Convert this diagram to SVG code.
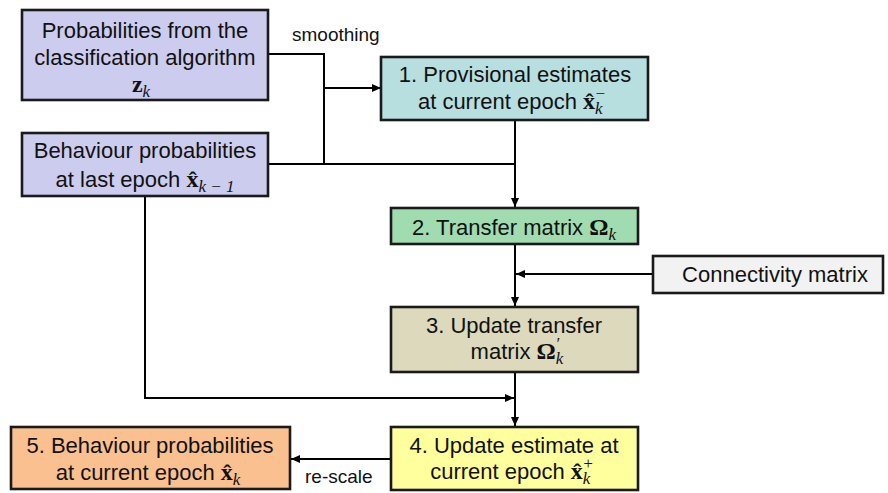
<svg xmlns="http://www.w3.org/2000/svg" width="888" height="493" viewBox="0 0 888 493">
<defs>
<marker id="arr" markerUnits="userSpaceOnUse" markerWidth="10" markerHeight="10" viewBox="0 0 10 10" refX="9" refY="5" orient="auto">
<path d="M0,1 L9,5 L0,9 Z" fill="#000"/>
</marker>
<style>
.box{stroke:#1a1a1a;stroke-width:2.6}
.t{font-family:"Liberation Sans",Arial,sans-serif;font-size:22px;fill:#111;text-anchor:middle}
.s{font-family:"Liberation Sans",Arial,sans-serif;font-size:19px;fill:#111}
.m{font-family:"Liberation Serif","DejaVu Serif",serif;font-weight:bold;font-size:24px}
.i{font-family:"Liberation Serif","DejaVu Serif",serif;font-style:italic;font-weight:normal;font-size:17px}
.c{fill:none;stroke:#000;stroke-width:2}
.a{marker-end:url(#arr)}
</style>
</defs>
<g id="connectors">
<path class="c" d="M268,54 H324 V164"/>
<path class="c" d="M268,164 H515"/>
<path class="c a" d="M324,88 H381"/>
<path class="c a" d="M515,120 V207"/>
<path class="c a" d="M515,244 V306"/>
<path class="c a" d="M653,274 H516"/>
<path class="c a" d="M145,197 V398 H514"/>
<path class="c a" d="M515,372 V426"/>
<path class="c a" d="M391,459 H291"/>
<text class="s" x="292" y="41">smoothing</text>
<text class="s" x="305" y="483">re-scale</text>
</g>
<g id="nodeA">
<rect class="box" x="22" y="10" width="246" height="90" fill="#ccccee"/>
<text class="t" x="145" y="38">Probabilities from the</text>
<text class="t" x="145" y="65">classification algorithm</text>
<text class="t" x="141" y="92"><tspan class="m">z</tspan><tspan class="i" dy="5">k</tspan></text>
</g>
<g id="nodeB">
<rect class="box" x="22" y="133" width="246" height="63" fill="#ccccee"/>
<text class="t" x="145" y="158">Behaviour probabilities</text>
<text class="t" x="145" y="187">at last epoch <tspan class="m">x&#x302;</tspan><tspan class="i" dy="5">k − 1</tspan></text>
</g>
<g id="node1">
<rect class="box" x="381" y="57" width="267" height="63" fill="#b8dfe0"/>
<text class="t" x="515" y="82">1. Provisional estimates</text>
<text class="t" x="512" y="109">at current epoch <tspan class="m">x&#x302;</tspan><tspan class="i" dy="5">k</tspan><tspan class="i" dx="-8" dy="-15">−</tspan></text>
</g>
<g id="node2">
<rect class="box" x="391" y="208" width="247" height="36" fill="#a0dcb0"/>
<text class="t" x="514" y="235">2. Transfer matrix <tspan class="m">Ω</tspan><tspan class="i" dy="5">k</tspan></text>
</g>
<g id="node3">
<rect class="box" x="391" y="307" width="247" height="65" fill="#dcd9bc"/>
<text class="t" x="514" y="333">3. Update transfer</text>
<text class="t" x="517" y="359">matrix <tspan class="m">Ω</tspan><tspan class="i" dy="5">k</tspan><tspan class="i" dx="-8" dy="-15">′</tspan></text>
</g>
<g id="nodeC">
<rect class="box" x="653" y="256" width="230" height="37" fill="#f2f2f2"/>
<text class="t" x="775" y="282">Connectivity matrix</text>
</g>
<g id="node4">
<rect class="box" x="391" y="427" width="247" height="63" fill="#ffff9e"/>
<text class="t" x="514" y="453">4. Update estimate at</text>
<text class="t" x="512" y="479">current epoch <tspan class="m">x&#x302;</tspan><tspan class="i" dy="5">k</tspan><tspan class="i" dx="-8" dy="-15">+</tspan></text>
</g>
<g id="node5">
<rect class="box" x="11" y="427" width="279" height="62" fill="#fac090"/>
<text class="t" x="150" y="453">5. Behaviour probabilities</text>
<text class="t" x="148" y="480">at current epoch <tspan class="m">x&#x302;</tspan><tspan class="i" dy="5">k</tspan></text>
</g>
</svg>
